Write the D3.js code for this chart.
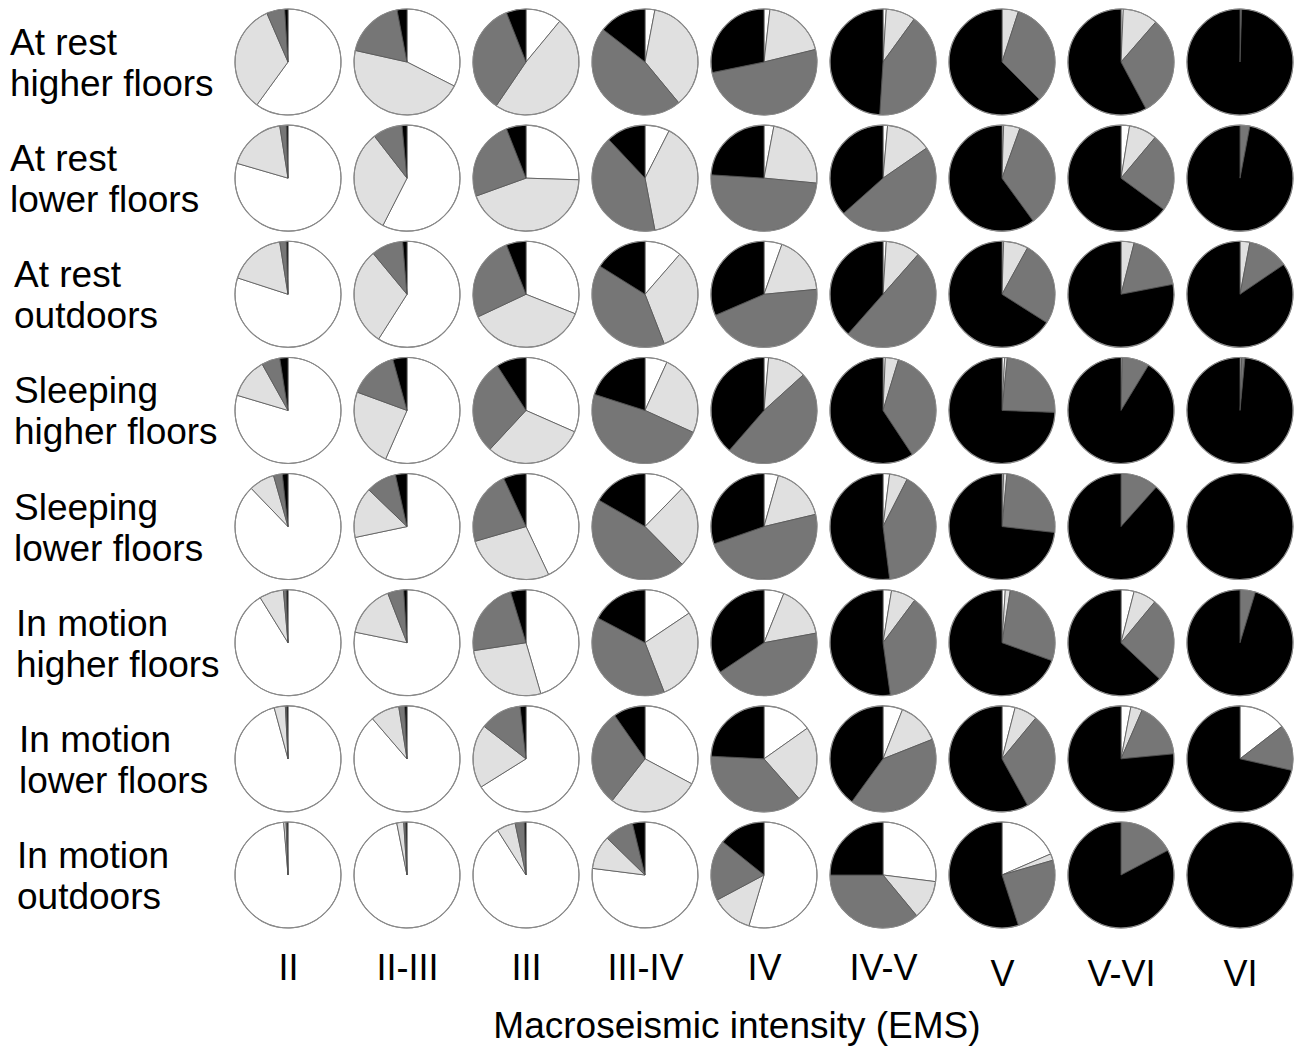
<!DOCTYPE html>
<html>
<head>
<meta charset="utf-8">
<script src="https://cdn.jsdelivr.net/npm/d3@7"></script>
<style>
  body { margin: 0; background: #fff; }
  svg text { font-family: "Liberation Sans", Arial, sans-serif; fill: #000; }
</style>
</head>
<body>
<svg id="chart" width="1302" height="1050"></svg>
<script>
// intensity classes (columns) and situations (rows)
const intensities = ["II", "II-III", "III", "III-IV", "IV", "IV-V", "V", "V-VI", "VI"];
const situations = [
    "At rest|higher floors",
    "At rest|lower floors",
    "At rest|outdoors",
    "Sleeping|higher floors",
    "Sleeping|lower floors",
    "In motion|higher floors",
    "In motion|lower floors",
    "In motion|outdoors"
];

// share of answers in %, one row per situation, one value per intensity
// white slice
const shareWhite = [
    [60, 32.5, 11, 3, 1.8, 1, 0, 0.7, 0],
    [79.5, 57.5, 25.5, 7.5, 3, 1.4, 0.5, 2.6, 0],
    [80, 59, 31, 11.4, 5.5, 1, 0.5, 0, 0],
    [79.6, 56.6, 31.6, 6.8, 1.4, 0.7, 0.8, 0.4, 0],
    [87.8, 71.7, 43, 12.3, 4.4, 2, 0.5, 0, 0],
    [91.2, 78.2, 45.5, 15.6, 6.1, 2.6, 1, 4, 0],
    [95.8, 88.7, 66.1, 32.8, 15.2, 6, 4, 3, 14.5],
    [98.7, 96.9, 91, 77, 54.6, 27, 18.5, 0, 0]
];
// light grey slice
const shareLight = [
    [33.5, 46, 48.5, 36, 19.4, 9, 5, 10.7, 0],
    [18, 32, 44, 39.5, 23.5, 14, 5, 8.5, 0],
    [17.5, 30, 37, 32.7, 18, 10.5, 7.5, 4, 3],
    [12.3, 24, 30.3, 25, 11.9, 4, 0.8, 0, 0.5],
    [7.8, 15.5, 27.5, 25.3, 16.9, 5.5, 1, 0, 0],
    [7.4, 15.9, 27.1, 28.5, 16, 7.6, 1.5, 7, 0],
    [3.4, 8.8, 19.4, 27.8, 23.3, 13, 7, 3.5, 0],
    [0.7, 2.1, 5.7, 10.3, 12.6, 12, 2, 0, 0]
];
// dark grey slice
const shareDark = [
    [5.5, 18.5, 34.5, 46.5, 50.6, 41, 32.5, 30.8, 0.5],
    [2, 9, 24.5, 41, 49.5, 48, 34.5, 24, 3],
    [2, 9.7, 26, 39.8, 45, 50, 26, 18, 12.5],
    [5.6, 15.1, 29, 48.1, 48.1, 36, 24, 8.3, 1],
    [2.7, 9.3, 22.6, 45.7, 48.4, 40.5, 25.3, 11.6, 0],
    [0.9, 4.9, 22.7, 38.6, 43.5, 37.6, 28, 26, 4.7],
    [0.4, 1.8, 12.7, 29.7, 37.3, 41, 31, 17, 14],
    [0.3, 0.6, 2.8, 8.9, 18.6, 36, 24.5, 17.3, 0]
];
// black slice
const shareBlack = [
    [1, 3, 6, 14.5, 28.2, 49, 62.5, 57.8, 99.5],
    [0.5, 1.5, 6, 12, 24, 36.6, 60, 64.9, 97],
    [0.5, 1.3, 6, 16.1, 31.5, 38.5, 66, 78, 84.5],
    [2.5, 4.3, 9.1, 20.1, 38.6, 59.3, 74.4, 91.3, 98.5],
    [1.7, 3.5, 6.9, 16.7, 30.3, 52, 73.2, 88.4, 100],
    [0.5, 1, 4.7, 17.3, 34.4, 52.2, 69.5, 63, 95.3],
    [0.4, 0.7, 1.8, 9.7, 24.2, 40, 58, 76.5, 71.5],
    [0.3, 0.4, 0.5, 3.8, 14.2, 25, 55, 82.7, 100]
];

const sliceColors = ["#ffffff", "#e0e0e0", "#767676", "#000000"];
const radius = 53;

const svg = d3.select("#chart");

// scales: pie centres
const x = d3.scalePoint().domain(intensities).range([288, 1240]);
const y = d3.scalePoint().domain(situations).range([62, 875]);

const pie = d3.pie().sort(null).value(d => d);
const arc = d3.arc().innerRadius(0).outerRadius(radius);

// build one record per cell
const cells = [];
situations.forEach((s, i) => {
    intensities.forEach((c, j) => {
        cells.push({
            situation: s,
            intensity: c,
            values: [shareWhite[i][j], shareLight[i][j], shareDark[i][j], shareBlack[i][j]]
        });
    });
});

const pies = svg.append("g")
  .selectAll("g.pie")
  .data(cells)
  .enter()
  .append("g")
    .attr("class", "pie")
    .attr("transform", d => `translate(${x(d.intensity)},${y(d.situation)})`);

pies.selectAll("path")
    .data(d => pie(d.values).filter(p => p.value > 0))
    .enter()
    .append("path")
      .attr("d", arc)
      .attr("fill", p => sliceColors[p.index])
      .attr("stroke", "#555")
      .attr("stroke-width", 0.8)
      .attr("stroke-linejoin", "round");

// outline
pies.append("circle")
    .attr("r", radius)
    .attr("fill", "none")
    .attr("stroke", "#8a8a8a")
    .attr("stroke-width", 1.1);

// row labels
const labelX = [10, 10, 14, 14, 14, 16, 19, 17];
const rowLabels = svg.append("g")
  .selectAll("text")
  .data(situations)
  .enter()
  .append("text")
    .attr("font-size", 37)
    .attr("transform", (d, i) => `translate(${labelX[i]},${y(d) - 7})`);

rowLabels.selectAll("tspan")
    .data(d => d.split("|"))
    .enter()
    .append("tspan")
      .attr("x", 0)
      .attr("y", (d, i) => i * 41)
      .text(d => d);

// x axis
const xAxis = svg.append("g")
    .attr("transform", "translate(0,945)")
    .call(d3.axisBottom(x).tickSize(0).tickPadding(9));
xAxis.select(".domain").remove();
xAxis.selectAll("text")
    .attr("font-size", 36)
    .attr("font-family", "Liberation Sans, Arial, sans-serif")
    .attr("fill", "#000")
    .attr("y", d => (["V", "V-VI", "VI"].includes(d) ? 15 : 9));

svg.append("text")
    .attr("x", 737)
    .attr("y", 1038)
    .attr("text-anchor", "middle")
    .attr("font-size", 37)
    .text("Macroseismic intensity (EMS)");
</script>
</body>
</html>
